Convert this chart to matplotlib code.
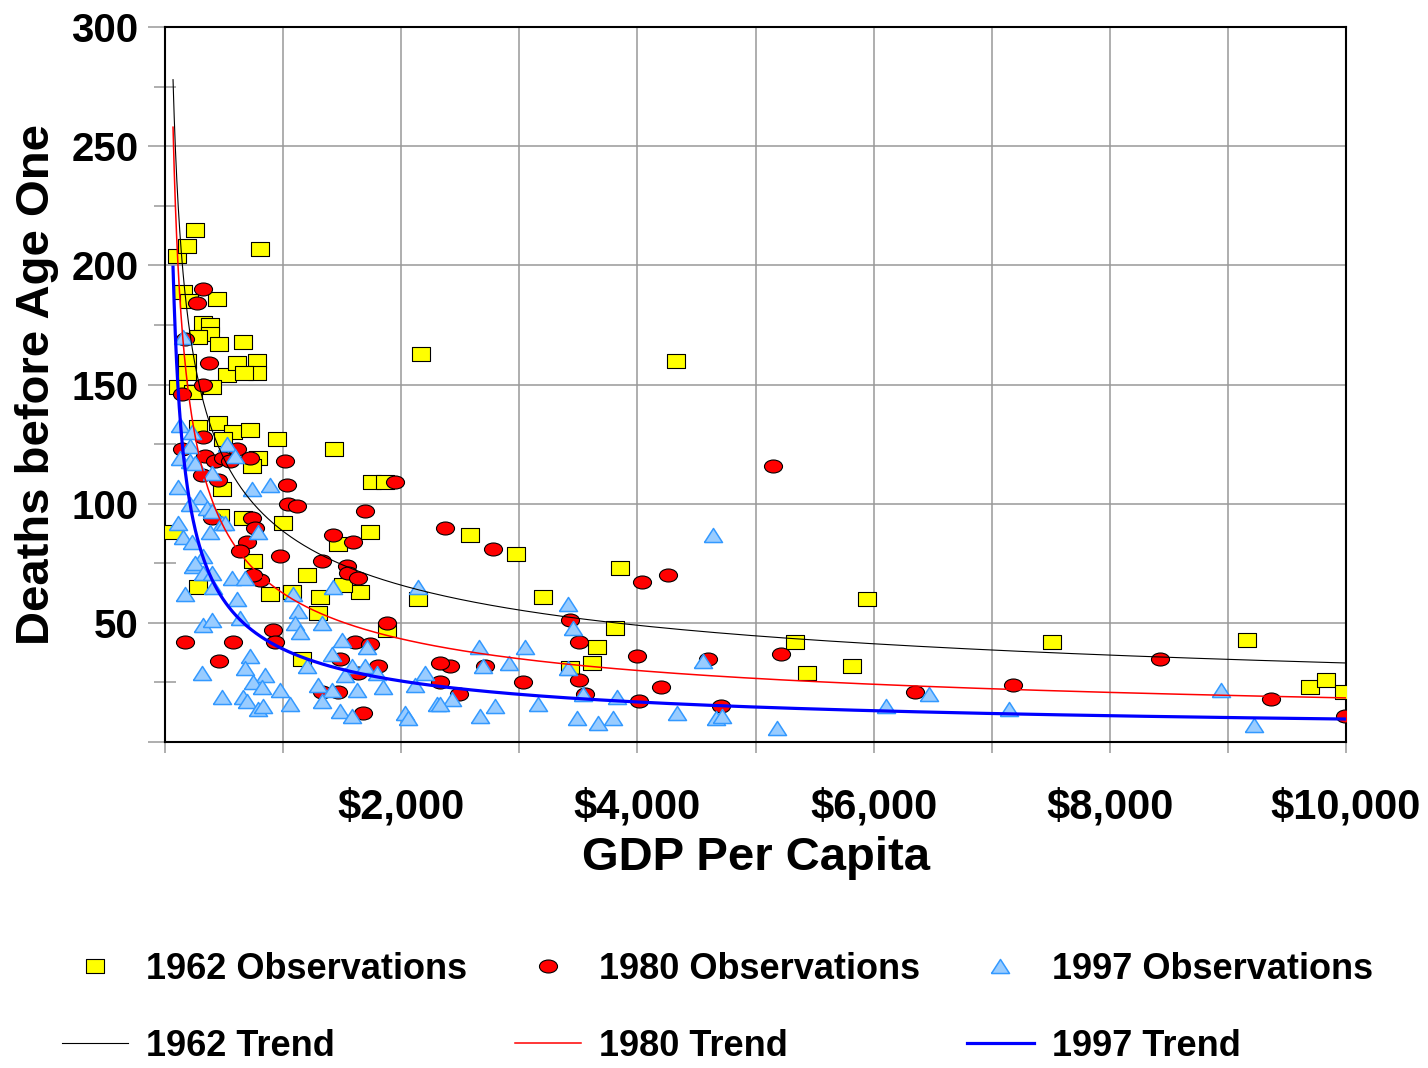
import matplotlib
matplotlib.use('Agg')
import matplotlib.pyplot as plt
import numpy as np
from matplotlib.lines import Line2D
from matplotlib.path import Path
from matplotlib.transforms import Affine2D
from matplotlib.ticker import MultipleLocator, FuncFormatter

# GDP per capita (US$) and deaths before age one
gdp_1962 = [100, 186, 254, 805, 152, 203, 440, 322, 381, 381,
            280, 457, 660, 186, 186, 779, 779, 525, 610, 669,
            110, 398, 237, 449, 576, 720, 491, 949, 788, 737,
            483, 280, 68, 1000, 466, 661, 745, 280, 889, 1075,
            2168, 1203, 1313, 1652, 1508, 1296, 1160, 2143, 1880, 1431,
            1753, 1863, 1736, 1465, 2583, 2973, 3202, 3854, 3812, 3659,
            3617, 3430, 4328, 5336, 5438, 5819, 5946, 7513, 9165, 9698,
            9834, 9986]
deaths_1962 = [204, 208, 215, 207, 189, 185, 186, 176, 175, 171,
               170, 167, 168, 160, 155, 160, 155, 154, 159, 155,
               149, 149, 147, 134, 130, 131, 127, 127, 119, 116,
               106, 132, 88, 92, 95, 94, 76, 65, 62, 63,
               163, 70, 61, 63, 66, 54, 35, 60, 47, 123,
               109, 109, 88, 83, 87, 79, 61, 73, 48, 40,
               33, 31, 160, 42, 29, 32, 60, 42, 43, 23,
               26, 21]

gdp_1980 = [322, 271, 373, 169, 322, 144, 322, 144, 339, 424,
            491, 610, 720, 551, 313, 449, 1016, 1033, 1042, 1118,
            737, 762, 694, 635, 974, 398, 169, 576, 457, 915,
            932, 805, 745, 1330, 1542, 1550, 1635, 1880, 1609, 1736,
            1482, 1804, 1635, 1465, 1330, 1677, 1948, 1694, 1423, 1592,
            2372, 2778, 4040, 4260, 3430, 3507, 3998, 2414, 2329, 2710,
            3032, 3507, 3558, 2490, 2329, 4201, 4015, 4600, 4709, 5217,
            5149, 6353, 7183, 8428, 9368, 9995]
deaths_1980 = [190, 184, 159, 169, 150, 146, 128, 123, 120, 118,
               119, 123, 119, 118, 112, 110, 118, 108, 100, 99,
               94, 90, 84, 80, 78, 94, 42, 42, 34, 47,
               42, 68, 70, 76, 74, 71, 69, 50, 42, 41,
               35, 32, 29, 21, 21, 12, 109, 97, 87, 84,
               90, 81, 67, 70, 51, 42, 36, 32, 33, 32,
               25, 26, 20, 20, 25, 23, 17, 35, 15, 37,
               116, 21, 24, 35, 18, 11]

gdp_1997 = [152, 127, 229, 212, 525, 127, 212, 254, 593, 398,
            110, 737, 889, 296, 212, 356, 398, 483, 508, 110,
            381, 152, 229, 788, 322, 237, 254, 322, 398, 169,
            568, 678, 406, 610, 322, 398, 635, 720, 678, 313,
            847, 483, 745, 822, 661, 694, 788, 830, 974, 1059,
            1084, 1127, 1101, 1143, 1330, 1423, 1499, 1415, 1584, 1694,
            1711, 1796, 1525, 1203, 1296, 1415, 1626, 1846, 1330, 1482,
            1584, 2118, 2202, 2143, 2033, 2058, 2304, 3413, 3455, 4642,
            2660, 3050, 2914, 2693, 3413, 4557, 2431, 2329, 2795, 2668,
            3159, 3541, 3828, 3490, 3667, 3795, 4337, 4667, 4718, 5184,
            6107, 6471, 7149, 8944, 9224]
deaths_1997 = [170, 133, 130, 124, 125, 119, 118, 117, 120, 113,
               107, 106, 108, 103, 100, 98, 97, 92, 92, 92,
               88, 86, 84, 88, 78, 74, 75, 71, 71, 62,
               69, 69, 65, 60, 49, 51, 52, 36, 31, 29,
               28, 19, 25, 23, 19, 17, 14, 15, 22, 16,
               62, 55, 50, 46, 50, 65, 43, 37, 32, 32,
               40, 29, 28, 32, 24, 22, 22, 23, 17, 13,
               11, 24, 29, 65, 12, 10, 16, 58, 48, 87,
               40, 40, 33, 32, 31, 34, 18, 16, 15, 11,
               16, 20, 19, 10, 8, 10, 12, 10, 11, 6,
               15, 20, 14, 22, 7]

# power trendlines y = a * x^b, coefficients
trend_1962 = (1677, -0.426)
trend_1980 = (2394, -0.528)
trend_1997 = (2580, -0.607)
trend_start, trend_end = 68, 10000

plt.rcParams['font.family'] = ['Liberation Sans', 'DejaVu Sans']
plt.rcParams['font.weight'] = 'bold'

# markers are a bit wider than tall in the original
rect = [(-9, -7), (9, -7), (9, 7), (-9, 7), (-9, -7)]
ellipse = Path.unit_circle().transformed(Affine2D().scale(1, 0.72))
tri = [(-9, -7), (9, -7), (0, 7), (-9, -7)]

sq_style = dict(marker=rect, ms=13, mfc='#FFFF00', mec='black', mew=0.8, ls='none')
ci_style = dict(marker=ellipse, ms=13, mfc='#FF0000', mec='black', mew=0.8, ls='none')
tr_style = dict(marker=tri, ms=13, mfc='#99CCFF', mec='#3399FF', mew=1.1, ls='none')


def power_trend(coef):
    a, b = coef
    xs = np.geomspace(trend_start, trend_end, 400)
    return xs, a * xs ** b


fig = plt.figure(figsize=(14.28, 10.68), dpi=100)
ax = fig.add_axes([165 / 1428, 1 - 742 / 1068, (1346 - 165) / 1428, (742 - 27) / 1068])

ax.plot(gdp_1962, deaths_1962, zorder=3, **sq_style)
ax.plot(gdp_1980, deaths_1980, zorder=4, **ci_style)
ax.plot(gdp_1997, deaths_1997, zorder=5, **tr_style)

ax.plot(*power_trend(trend_1962), color='black', lw=0.8, zorder=6)
ax.plot(*power_trend(trend_1980), color='#FF0000', lw=1.1, zorder=7)
ax.plot(*power_trend(trend_1997), color='#0000FF', lw=2.3, zorder=8)

ax.set_xlim(0, 10000)
ax.set_ylim(0, 300)

ax.xaxis.set_major_locator(MultipleLocator(2000))
ax.xaxis.set_minor_locator(MultipleLocator(1000))
ax.xaxis.set_major_formatter(FuncFormatter(lambda v, p: f"${int(v):,}" if v > 0 else ""))
ax.yaxis.set_major_locator(MultipleLocator(50))
ax.yaxis.set_minor_locator(MultipleLocator(25))
ax.yaxis.set_major_formatter(FuncFormatter(lambda v, p: f"{int(v)}" if v > 0 else ""))

ax.grid(True, which='major', axis='y', color='#999999', lw=1.1)
ax.grid(True, which='both', axis='x', color='#999999', lw=1.1)
ax.set_axisbelow(True)

ax.tick_params(axis='x', which='both', direction='out', length=8, width=1.1,
               color='#999999', labelsize=30, pad=25)
ax.tick_params(axis='y', which='major', direction='out', length=12, width=1.1,
               color='#999999', labelsize=29, pad=7)
ax.tick_params(axis='y', which='minor', direction='inout', length=16.5, width=1.1,
               color='#999999')

for s in ax.spines.values():
    s.set_color('black')
    s.set_linewidth(1.5)

ax.set_xlabel('GDP Per Capita', fontsize=34, fontweight='bold', va='center')
ax.xaxis.set_label_coords(0.5, (742 - 858) / 715)
ax.set_ylabel('Deaths before Age One', fontsize=34, fontweight='bold', va='center')
ax.yaxis.set_label_coords((37 - 165) / 1181, 0.5)

handles = [
    Line2D([], [], **sq_style), Line2D([], [], color='black', lw=0.8),
    Line2D([], [], **ci_style), Line2D([], [], color='#FF0000', lw=1.1),
    Line2D([], [], **tr_style), Line2D([], [], color='#0000FF', lw=2.3),
]
labels = ['1962 Observations', '1962 Trend', '1980 Observations', '1980 Trend',
          '1997 Observations', '1997 Trend']
fig.legend(handles, labels, ncol=3, loc='upper left',
           bbox_to_anchor=(62 / 1428, 1 - 952 / 1068), frameon=False,
           prop={'size': 26, 'weight': 'bold'}, borderpad=0, borderaxespad=0,
           handlelength=1.84, handletextpad=0.5, columnspacing=1.3,
           labelspacing=1.15)

fig.savefig('out.png', dpi=100)
